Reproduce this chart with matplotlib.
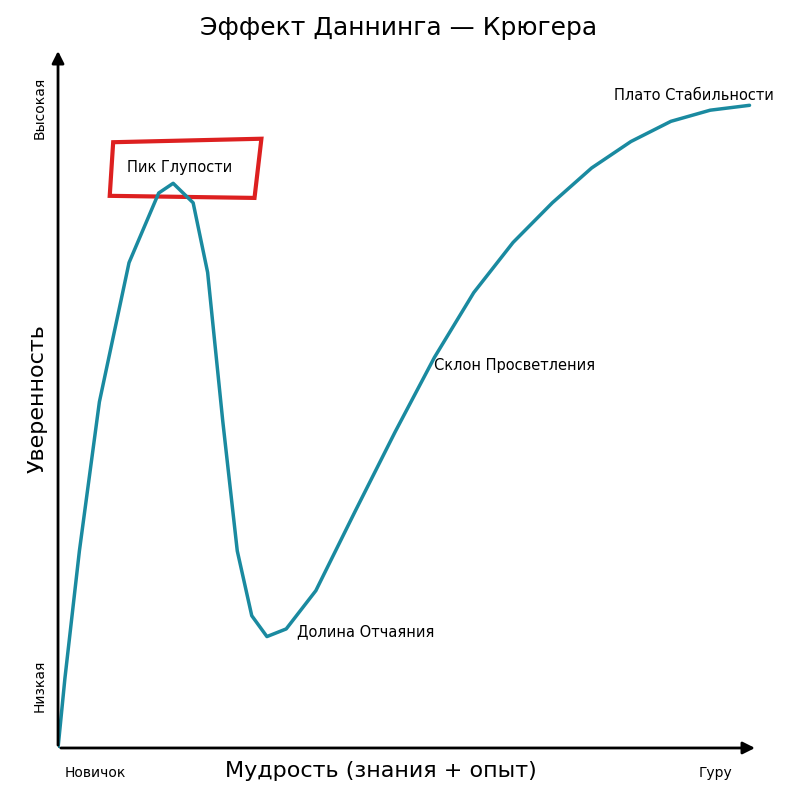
import matplotlib
matplotlib.use("Agg")
import matplotlib.pyplot as plt
from matplotlib.patches import Polygon

wisdom = [0, 0.5, 1, 3.1, 6, 10.3, 14.6, 16.7, 19.6, 21.7, 23.9, 26, 28.1, 30.3, 33.1, 37.4,
          43.1, 48.9, 54.6, 60.3, 66, 71.7, 77.4, 83.1, 88.9, 94.6, 100.3]
confidence = [0, 5, 10, 28.3, 49.7, 69.7, 79.7, 81.1, 78.3, 68.3, 46.9, 28.3, 19, 16, 17.1, 22.6,
              34, 45.4, 56.1, 65.4, 72.6, 78.3, 83.3, 87.1, 90, 91.6, 92.3]
labels = ["Пик Глупости", "Долина Отчаяния", "Склон Просветления", "Плато Стабильности"]
label_pos = [(17.7, 83.3), (34.6, 16.7), (54.6, 54.9), (92.3, 93.7)]

fig = plt.figure(figsize=(7.97, 7.97), dpi=100)
ax = fig.add_axes([0.0728, 0.0615, 0.878, 0.878])
ax.set_xlim(0, 101.5)
ax.set_ylim(0, 100.5)
ax.axis("off")
ax.plot(wisdom, confidence, color="#1a8aa0", lw=2.5, solid_capstyle="round")

ax.annotate("", xy=(101.5, 0), xytext=(0, 0), arrowprops=dict(arrowstyle="-|>", lw=2, color="black", mutation_scale=18), annotation_clip=False)
ax.annotate("", xy=(0, 100.5), xytext=(0, 0), arrowprops=dict(arrowstyle="-|>", lw=2, color="black", mutation_scale=18), annotation_clip=False)

box = Polygon([(8, 87), (29.5, 87.5), (28.5, 79), (7.5, 79.3)], closed=True, fill=False, ec="#dd2020", lw=3)
ax.add_patch(box)

ax.text(label_pos[0][0], label_pos[0][1], labels[0], ha="center", va="center", fontsize=10.5)
ax.text(label_pos[1][0], label_pos[1][1], labels[1], ha="left", va="center", fontsize=10.5)
ax.text(label_pos[2][0], label_pos[2][1], labels[2], ha="left", va="center", fontsize=10.5)
ax.text(label_pos[3][0], label_pos[3][1], labels[3], ha="center", va="center", fontsize=10.5)

fig.text(0.5, 0.965, "Эффект Даннинга — Крюгера", ha="center", va="center", fontsize=18)
fig.text(0.478, 0.033, "Мудрость (знания + опыт)", ha="center", va="center", fontsize=16)
fig.text(0.047, 0.5, "Уверенность", rotation=90, ha="center", va="center", fontsize=16)
fig.text(0.12, 0.03, "Новичок", ha="center", va="center", fontsize=10)
fig.text(0.898, 0.03, "Гуру", ha="center", va="center", fontsize=10)
fig.text(0.05, 0.14, "Низкая", rotation=90, ha="center", va="center", fontsize=10)
fig.text(0.05, 0.865, "Высокая", rotation=90, ha="center", va="center", fontsize=10)

fig.savefig("out.png", dpi=100, facecolor="white")
